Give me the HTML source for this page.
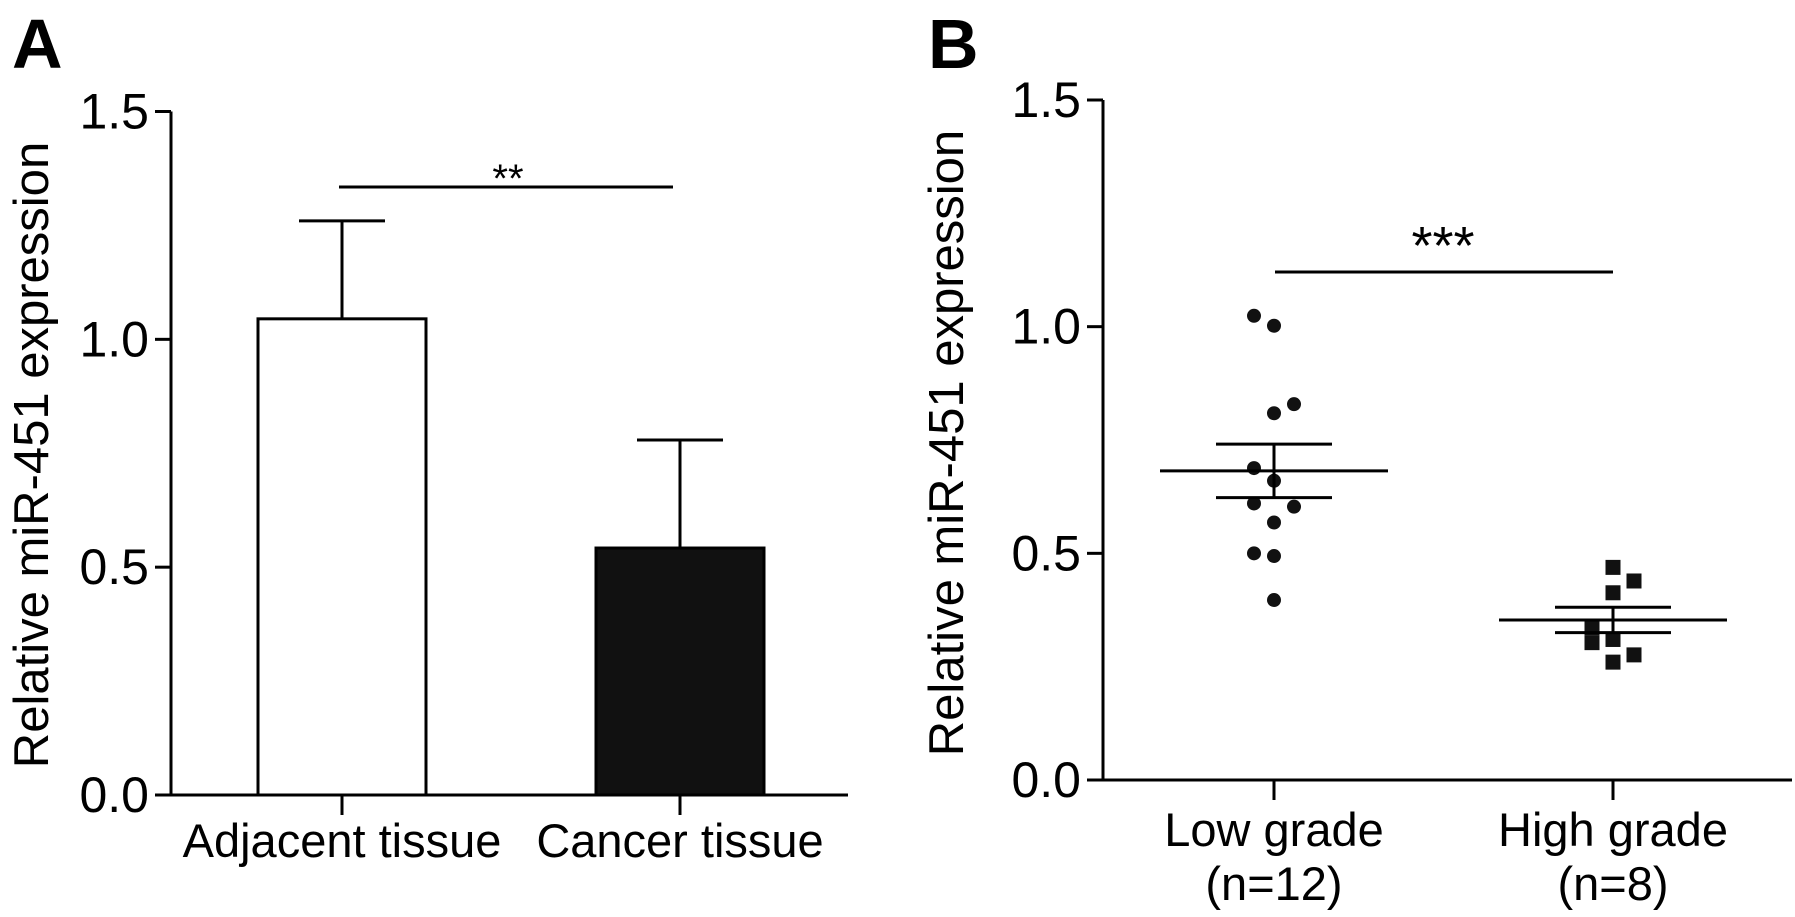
<!DOCTYPE html>
<html><head><meta charset="utf-8"><style>
html,body{margin:0;padding:0;background:#fff;}
svg{display:block;font-family:"Liberation Sans",Arial,sans-serif;}
</style></head><body>
<svg id="fig" width="1795" height="917" viewBox="0 0 1795 917">
<text x="12" y="68" font-size="70" font-weight="bold">A</text>
<text x="928" y="68" font-size="70" font-weight="bold">B</text>
<g id="pa"></g>
<g id="pb"></g>
</svg>
<script>
const NS='http://www.w3.org/2000/svg';
const yTicks=[0,0.5,1.0,1.5];
const yTickLabels=['0.0','0.5','1.0','1.5'];
const barCategories=['Adjacent tissue','Cancer tissue'];
const barValues=[1.045,0.542];
const barErrors=[0.215,0.237];
const barFills=['#fff','#111'];
const scatterCategories=[['Low grade','(n=12)'],['High grade','(n=8)']];
const lowValues=[1.024,1.002,0.829,0.809,0.688,0.660,0.610,0.603,0.568,0.500,0.494,0.397];
const lowJitter=[-1,0,1,0,-1,0,-1,1,0,-1,0,0];
const highValues=[0.469,0.439,0.413,0.336,0.303,0.310,0.276,0.260];
const highJitter=[0,1,0,-1,-1,0,1,0];
const groupMeans=[0.682,0.353];
const groupSems=[0.059,0.028];

function mk(parent,tag,attrs,text){const e=document.createElementNS(NS,tag);for(const k in attrs)e.setAttribute(k,attrs[k]);if(text!==undefined)e.textContent=text;parent.appendChild(e);return e;}

function axes(g,ax,x0,x1,y0,ymax,ypix,tickXs,labX,labY,labText){
  const y=v=>y0-(v/ymax)*(y0-ypix);
  const yl=mk(g,'line',{x1:ax,y1:y(ymax),x2:ax,y2:y0,stroke:'#000','stroke-width':3});
  
  
  const xl=mk(g,'line',{x1:ax,y1:y0,x2:x1,y2:y0,stroke:'#000','stroke-width':3});
  
  
  yTicks.forEach((v,i)=>{
    const t=mk(g,'line',{x1:ax-16,y1:y(v),x2:ax,y2:y(v),stroke:'#000','stroke-width':3});
    
    
    const l=mk(g,'text',{x:ax-22,y:y(v)+17,'font-size':50,'text-anchor':'end'},yTickLabels[i]);
    
    
  });
  tickXs.forEach(tx=>{
    const t=mk(g,'line',{x1:tx,y1:y0,x2:tx,y2:y0+20,stroke:'#000','stroke-width':3});
    
    
  });
  const tl=mk(g,'text',{x:labX,y:labY,'font-size':49,'text-anchor':'middle',transform:`rotate(-90 ${labX} ${labY})`},labText);
  
  
  return y;
}

// Panel A
const ga=document.getElementById('pa');
const aCenters=[342,680];
const ya=axes(ga,171,171,848,795,1.5,111.5,aCenters,48,455,'Relative miR-451 expression');
barValues.forEach((v,i)=>{
  const cx=aCenters[i],w=168;
  const top=ya(v+barErrors[i]);
  const el=mk(ga,'line',{x1:cx,y1:top,x2:cx,y2:ya(v),stroke:'#000','stroke-width':3});
  
  
  const cap=mk(ga,'line',{x1:cx-43,y1:top,x2:cx+43,y2:top,stroke:'#000','stroke-width':3});
  
  
  const r=mk(ga,'rect',{x:cx-w/2,y:ya(v),width:w,height:ya(0)-ya(v),fill:barFills[i],stroke:'#000','stroke-width':3});
  
  
  const t=mk(ga,'text',{x:cx,y:857,'font-size':47,'text-anchor':'middle'},barCategories[i]);
  
  
});
const sa=mk(ga,'line',{x1:339,y1:187,x2:673,y2:187,stroke:'#000','stroke-width':3});


const sta=mk(ga,'text',{x:508,y:192,'font-size':40,'text-anchor':'middle'},'**');



// Panel B
const gb=document.getElementById('pb');
const bCenters=[1274,1613];
const yb=axes(gb,1103,1103,1792,780,1.5,100,bCenters,963,443,'Relative miR-451 expression');
lowValues.forEach((v,i)=>{
  const c=mk(gb,'circle',{cx:bCenters[0]+lowJitter[i]*20,cy:yb(v),r:7,fill:'#111'});
  
  
});
highValues.forEach((v,i)=>{
  const s=mk(gb,'rect',{x:bCenters[1]+highJitter[i]*21-7.5,y:yb(v)-7.5,width:15,height:15,fill:'#111'});
  
  
});
groupMeans.forEach((m,i)=>{
  const cx=bCenters[i];
  const ml=mk(gb,'line',{x1:cx-114,y1:yb(m),x2:cx+114,y2:yb(m),stroke:'#000','stroke-width':3});
  
  
  const vl=mk(gb,'line',{x1:cx,y1:yb(m+groupSems[i]),x2:cx,y2:yb(m-groupSems[i]),stroke:'#000','stroke-width':3});
  
  
  [1,-1].forEach(sg=>{
    const c=mk(gb,'line',{x1:cx-58,y1:yb(m+sg*groupSems[i]),x2:cx+58,y2:yb(m+sg*groupSems[i]),stroke:'#000','stroke-width':3});
    
    
  });
  scatterCategories[i].forEach((txt,j)=>{
    const t=mk(gb,'text',{x:cx,y:846+j*54,'font-size':47,'text-anchor':'middle'},txt);
    
    
  });
});
const sb=mk(gb,'line',{x1:1275,y1:272,x2:1613,y2:272,stroke:'#000','stroke-width':3});


const stb=mk(gb,'text',{x:1443,y:264,'font-size':54,'text-anchor':'middle'},'***');


</script>
</body></html>
